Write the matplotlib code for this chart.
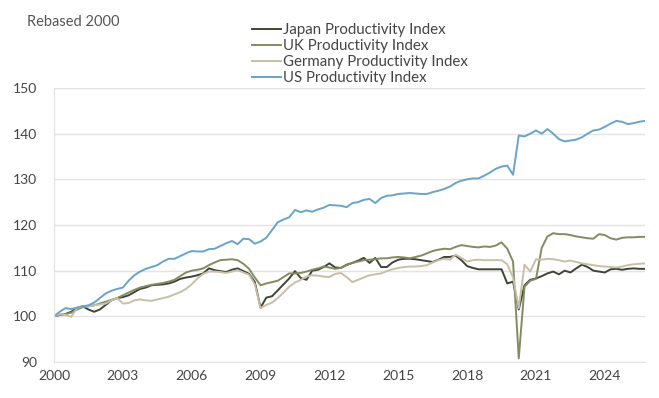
import matplotlib
matplotlib.use("Agg")
import matplotlib.pyplot as plt
import numpy as np

plt.rcParams['font.family'] = ['Lato', 'DejaVu Sans']

start_year = 2000.0
quarter = 0.25

us = [100.0, 101.0, 101.8, 101.6, 101.9, 102.2, 102.4, 103.0, 104.0, 105.0, 105.6, 106.0,
      106.3, 107.8, 109.0, 109.8, 110.4, 110.8, 111.2, 112.0, 112.6, 112.6, 113.2, 113.8,
      114.3, 114.2, 114.2, 114.7, 114.8, 115.4, 116.0, 116.5, 115.8, 117.0, 116.9, 115.9,
      116.4, 117.2, 118.9, 120.6, 121.2, 121.7, 123.3, 122.8, 123.2, 122.9, 123.4, 123.8,
      124.4, 124.3, 124.2, 123.9, 124.8, 125.0, 125.5, 125.7, 124.8, 125.9, 126.4, 126.5,
      126.8, 126.9, 127.0, 126.9, 126.8, 126.8, 127.2, 127.5, 127.9, 128.4, 129.2, 129.7,
      130.0, 130.2, 130.2, 130.8, 131.5, 132.3, 132.8, 133.0, 131.0, 139.6, 139.4, 140.0,
      140.7, 140.0, 141.0, 140.0, 138.8, 138.3, 138.5, 138.7, 139.2, 140.0, 140.7, 140.9,
      141.5, 142.2, 142.8, 142.6, 142.1, 142.3, 142.6, 142.8]

uk = [100.0, 100.3, 100.5, 100.8, 101.5, 102.0, 102.2, 102.4, 102.8, 103.2, 103.6, 104.0,
      104.6, 105.2, 105.8, 106.3, 106.6, 106.9, 107.1, 107.3, 107.6, 108.0, 108.8, 109.6,
      110.0, 110.2, 110.5, 111.2, 111.8, 112.3, 112.4, 112.5, 112.3, 111.5, 110.4, 108.5,
      106.8, 107.2, 107.5, 107.8, 108.6, 109.4, 109.4, 109.5, 109.8, 110.2, 110.5, 110.9,
      110.7, 110.4, 110.6, 111.2, 111.7, 112.0, 112.3, 112.4, 112.5, 112.7, 112.7, 112.9,
      113.0, 112.9, 112.7, 113.0, 113.3, 113.8, 114.3, 114.6, 114.8, 114.7, 115.2, 115.6,
      115.4, 115.2, 115.1, 115.3, 115.2, 115.5, 116.2, 114.8, 112.0, 90.8, 106.5, 107.8,
      108.2, 115.0, 117.5, 118.2, 118.0, 118.0, 117.8, 117.5, 117.3, 117.1, 117.0, 118.0,
      117.8, 117.1, 116.8, 117.2, 117.3, 117.3, 117.4, 117.4]

japan = [100.0, 100.3, 100.5, 101.0, 101.8, 102.2, 101.5, 101.0, 101.5, 102.5, 103.5, 104.0,
         104.2, 104.6, 105.3, 106.0, 106.3, 106.8, 106.9, 107.0, 107.2, 107.6, 108.2, 108.5,
         108.7, 109.0, 109.4, 110.5, 110.1, 109.9, 109.7, 110.2, 110.5, 109.9, 109.3, 107.5,
         101.9, 104.1, 104.4, 105.7, 107.0, 108.3, 109.9, 108.4, 108.0, 110.0, 110.2, 110.8,
         111.6, 110.7, 110.6, 111.3, 111.7, 112.2, 112.8, 111.7, 112.8, 110.8, 110.8, 111.8,
         112.4, 112.6, 112.6, 112.5, 112.3, 112.1, 111.9, 112.4, 113.0, 113.0, 113.3, 112.3,
         111.0, 110.6, 110.3, 110.3, 110.3, 110.3, 110.3, 107.2, 107.6, 101.5, 106.8, 108.0,
         108.3, 108.8, 109.4, 109.8, 109.2, 110.0, 109.6, 110.5, 111.3, 110.8, 110.0, 109.8,
         109.6, 110.3, 110.4, 110.2, 110.4, 110.5, 110.4, 110.4]

germany = [100.0, 100.5, 100.3, 99.9, 101.8, 102.2, 102.2, 102.4, 102.6, 102.8, 103.5, 104.0,
           102.8, 102.9, 103.5, 103.7, 103.5, 103.4, 103.7, 104.0, 104.3, 104.8, 105.3, 106.0,
           107.0, 108.3, 109.3, 109.8, 109.8, 109.7, 109.5, 109.8, 110.1, 109.6, 109.1, 107.0,
           101.8, 102.5, 103.0, 104.0, 105.2, 106.5, 107.4, 108.0, 108.7, 109.0, 108.9, 108.7,
           108.6, 109.3, 109.5, 108.6, 107.5, 108.0, 108.5, 109.0, 109.2, 109.4, 109.9, 110.3,
           110.6, 110.8, 110.9, 110.9, 111.0, 111.2, 111.8, 112.3, 112.6, 112.4, 113.5, 112.8,
           112.0, 112.3, 112.4, 112.3, 112.3, 112.3, 112.3, 111.4, 108.5, 101.8, 111.3, 109.8,
           112.5, 112.4, 112.6, 112.5, 112.3, 112.0, 112.2, 111.9, 111.6, 111.4, 111.2, 111.0,
           110.9, 110.8, 110.7, 110.9, 111.2, 111.4, 111.5, 111.6]

series_labels = ["Japan Productivity Index", "UK Productivity Index",
                 "Germany Productivity Index", "US Productivity Index"]
x_ticks = [2000, 2003, 2006, 2009, 2012, 2015, 2018, 2021, 2024]
y_ticks = [90, 100, 110, 120, 130, 140, 150]

dates = start_year + quarter * np.arange(len(us))

colors = ["#3c4538", "#848a62", "#c8bfa8", "#6aa3c6"]

fig = plt.figure(figsize=(6.59, 3.98), dpi=100)
ax = fig.add_axes([54/659, 1-362/398, (645-54)/659, (362-88)/398])

for vals, lab, c in zip([japan, uk, germany, us], series_labels, colors):
    ax.plot(dates, vals, color=c, lw=1.4, label=lab, solid_joinstyle='round')

ax.set_xlim(dates[0], dates[-1])
ax.set_ylim(90, 150)
ax.set_xticks(x_ticks)
ax.set_yticks(y_ticks)
ax.grid(axis='y', color='#e3e3e3', lw=1.0)
ax.set_axisbelow(True)
for s in ['top', 'right']:
    ax.spines[s].set_visible(False)
ax.spines['left'].set_color('#e3e3e3')
ax.spines['bottom'].set_color('#e3e3e3')
ax.tick_params(length=0, labelsize=10, colors='#444444', pad=6)
ax.tick_params(axis='y', pad=12)

fig.text(27/659, 1-22/398, "Rebased 2000", fontsize=10.5, color='#555555', va='center')

fig.legend(loc='upper left', bbox_to_anchor=(252/659, 1-23/398), frameon=False,
           fontsize=10.8, handlelength=1.95, handletextpad=0.12, labelspacing=0.14,
           borderpad=0, borderaxespad=0, labelcolor='#444444')

fig.savefig("out.png", dpi=100)
